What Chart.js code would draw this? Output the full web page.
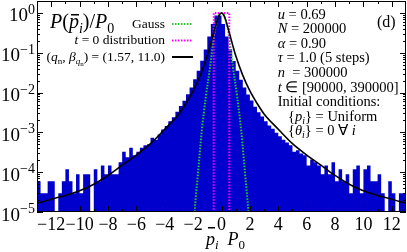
<!DOCTYPE html>
<html>
<head>
<meta charset="utf-8">
<style>
  html, body { margin: 0; padding: 0; background: #fff; }
</style>
<script src="https://cdn.jsdelivr.net/npm/chart.js@4.4.1/dist/chart.umd.min.js"></script>
</head>
<body>
<canvas id="myChart" width="407" height="252"></canvas>
<script>
// histogram of p_i P0 : bins of 0.25 from -13 to 13 (0 = empty bin)
var binStart = -13;
var binWidth = 0.25;
var histValues = [
  2.95e-5, 5.9e-5, 2.95e-5, 2.95e-5, 5.9e-5, 5.9e-5, 0, 2.95e-5, 5.9e-5, 1.18e-4,
  5.9e-5, 2.95e-5, 8.85e-5, 2.95e-5, 8.85e-5, 8.85e-5, 0, 1.18e-4, 5.9e-5, 1.48e-4,
  8.85e-5, 1.48e-4, 8.85e-5, 8.85e-5, 1.77e-4, 3.25e-4, 2.36e-4, 4.13e-4, 2.66e-4, 3.25e-4,
  4.13e-4, 4.72e-4, 5.02e-4, 7.38e-4, 6.49e-4, 8.85e-4, 1.18e-3,
  1.45e-3, 1.9e-3, 2.4e-3, 3.3e-3, 4.6e-3, 6.2e-3, 9.1e-3, 1.34e-2, 2.15e-2, 3.55e-2,
  6.3e-2, 0.121, 0.255, 0.53, 0.87, 0.87, 0.53, 0.255, 0.122, 6.2e-2,
  3.55e-2, 2.1e-2, 1.35e-2, 8.9e-3, 6.3e-3, 4.4e-3, 3.2e-3, 2.5e-3, 1.9e-3, 1.48e-3,
  1.24e-3, 9.74e-4, 7.97e-4, 6.49e-4, 5.6e-4, 4.72e-4, 3.25e-4, 3.54e-4, 2.95e-4, 2.66e-4,
  1.48e-4, 2.07e-4, 1.77e-4, 1.48e-4, 8.85e-5, 1.48e-4, 8.85e-5, 1.77e-4, 5.9e-5, 1.18e-4,
  5.9e-5, 8.85e-5, 2.95e-5, 1.18e-4, 1.48e-4, 2.95e-5, 1.18e-4, 1.48e-4, 5.9e-5, 5.9e-5,
  8.85e-5, 2.95e-5, 0, 5.9e-5, 2.95e-5, 0, 2.95e-5
];

// q-Gaussian fit (q_n, beta) = (1.57, 11.0)
var qCurveX = [-13, -12, -11, -10, -9, -8, -7, -6, -5, -4, -3, -2.5, -2, -1.5, -1, -0.75, -0.5, -0.25, -0.125, 0,
  0.125, 0.25, 0.5, 0.75, 1, 1.5, 2, 2.5, 3, 4, 5, 6, 7, 8, 9, 10, 11, 12, 13];
var qCurveY = [1.65e-5, 2.1e-5, 2.6e-5, 3.4e-5, 5.0e-5, 8.3e-5, 1.5e-4, 2.7e-4, 5.2e-4, 1.2e-3, 2.9e-3, 5.4e-3, 1.1e-2, 2.7e-2, 8.5e-2, 0.175, 0.37, 0.74, 0.93, 1,
  0.93, 0.74, 0.37, 0.175, 8.5e-2, 2.7e-2, 1.1e-2, 5.4e-3, 2.9e-3, 1.2e-3, 5.2e-4, 2.7e-4, 1.5e-4, 8.3e-5, 5.0e-5, 3.4e-5, 2.6e-5, 2.1e-5, 1.65e-5];

// Gauss
var gaussX = [-2.0, -1.9, -1.65, -1.4, -1.1, -0.8, -0.5, -0.25, 0, 0.25, 0.5, 0.8, 1.1, 1.4, 1.65, 1.9, 2.0];
var gaussY = [3e-6, 1e-5, 1e-4, 1e-3, 8e-3, 4.5e-2, 0.31, 0.75, 1, 0.75, 0.31, 4.5e-2, 8e-3, 1e-3, 1e-4, 1e-5, 3e-6];

// t = 0 distribution (uniform)
var initX = [-0.55, -0.55, 0.55, 0.55];
var initY = [1e-6, 1, 1, 1e-6];

var xTickValues = [-12, -10, -8, -6, -4, -2, 0, 2, 4, 6, 8, 10, 12];
var yTickExponents = [0, -1, -2, -3, -4, -5];

function zip(xs, ys) {
  return xs.map(function (x, i) { return { x: x, y: ys[i] }; });
}

var histPoints = histValues.map(function (v, k) {
  return { x: binStart + k * binWidth, y: v > 0 ? v : 1e-9 };
});
histPoints.push({ x: binStart + histValues.length * binWidth, y: histPoints[histPoints.length - 1].y });

var SERIF = '"Liberation Serif", "Times New Roman", serif';
function font(size, italic) { return (italic ? 'italic ' : '') + size + 'px ' + SERIF; }

// draws a row of text pieces (sub/superscripts via dy, bar = overbar height above baseline)
function drawRuns(ctx, x, y, parts, align) {
  var total = 0;
  parts.forEach(function (p) { ctx.font = font(p.s, p.i); total += ctx.measureText(p.t).width; });
  var cx = align === 'right' ? x - total : (align === 'center' ? x - total / 2 : x);
  parts.forEach(function (p) {
    ctx.font = font(p.s, p.i);
    var w = ctx.measureText(p.t).width;
    ctx.fillText(p.t, cx, y + (p.dy || 0));
    if (p.bar) {
      ctx.fillRect(Math.round(cx + w * 0.25), Math.round(y - p.bar), Math.round(w * 0.8), 1.5);
    }
    cx += w;
  });
}

var frameAndText = {
  id: 'frameAndText',
  afterDatasetsDraw: function (chart) {
    var ctx = chart.ctx, a = chart.chartArea;
    var xs = chart.scales.x, ys = chart.scales.y;
    ctx.save();
    ctx.strokeStyle = '#000';
    ctx.lineWidth = 1;
    ctx.beginPath();
    // x ticks, top and bottom
    for (var v = -12; v <= 12; v++) {
      var px = Math.round(xs.getPixelForValue(v)) + 0.5;
      var len = v % 2 === 0 ? 6 : 3;
      ctx.moveTo(px, a.bottom); ctx.lineTo(px, a.bottom - len);
      ctx.moveTo(px, a.top); ctx.lineTo(px, a.top + len);
    }
    // y ticks, left and right
    yTickExponents.forEach(function (e) {
      for (var m = 1; m <= 9; m++) {
        var val = m * Math.pow(10, e);
        if (val > ys.max || val < ys.min) continue;
        var py = Math.round(ys.getPixelForValue(val)) + 0.5;
        var l = m === 1 ? 6 : 3;
        ctx.moveTo(a.left, py); ctx.lineTo(a.left + l, py);
        ctx.moveTo(a.right, py); ctx.lineTo(a.right - l, py);
      }
    });
    ctx.stroke();
    ctx.strokeRect(a.left + 0.5, a.top + 0.5, a.right - a.left - 1, a.bottom - a.top - 1);
    ctx.restore();
  },
  afterDraw: function (chart) {
    var ctx = chart.ctx;
    var xs = chart.scales.x, ys = chart.scales.y;
    ctx.save();
    ctx.fillStyle = '#000';
    ctx.textBaseline = 'alphabetic';

    // x tick labels
    xTickValues.forEach(function (v) {
      var label = v < 0 ? '\u2212' + (-v) : String(v);
      drawRuns(ctx, xs.getPixelForValue(v), 230, [{ t: label, s: 18 }], 'center');
    });
    // y tick labels 10^e
    yTickExponents.forEach(function (e) {
      var py = ys.getPixelForValue(Math.pow(10, e));
      var ex = e === 0 ? '0' : '\u2212' + (-e);
      ctx.font = font(14, false);
      var ew = ctx.measureText(ex).width;
      ctx.fillText(ex, 35 - ew, py + 1);
      drawRuns(ctx, 35 - ew, py + 8.5, [{ t: '10', s: 19 }], 'right');
    });

    // x axis title
    drawRuns(ctx, 206, 245, [
      { t: 'p', s: 18, i: true, bar: 18 },
      { t: 'i', s: 13, i: true, dy: 4 },
      { t: '  ', s: 18 },
      { t: 'P', s: 18, i: true },
      { t: '0', s: 13, dy: 4 }
    ], 'left');

    // panel title
    drawRuns(ctx, 50, 27.5, [
      { t: 'P', s: 20, i: true },
      { t: '(', s: 20 },
      { t: 'p', s: 20, i: true, bar: 14 },
      { t: 'i', s: 14, i: true, dy: 5 },
      { t: ')', s: 20 },
      { t: '/', s: 20 },
      { t: 'P', s: 20, i: true },
      { t: '0', s: 14, dy: 5 }
    ], 'left');

    // legend
    var ls = 13.5;
    drawRuns(ctx, 165, 28.3, [{ t: 'Gauss', s: ls }], 'right');
    drawRuns(ctx, 165, 44.3, [{ t: 't', s: ls, i: true }, { t: ' = 0 distribution', s: ls }], 'right');
    drawRuns(ctx, 165, 60.5, [
      { t: '(', s: ls }, { t: 'q', s: ls, i: true }, { t: 'n', s: 9, dy: 3 },
      { t: ', ', s: ls }, { t: '\u03B2', s: ls, i: true }, { t: 'q', s: 9, i: true, dy: 3 },
      { t: 'n', s: 7, dy: 5 }, { t: ') = (1.57, 11.0)', s: ls }
    ], 'right');
    ctx.lineWidth = 2;
    ctx.setLineDash([1.5, 1.5]);
    ctx.strokeStyle = '#22cc22';
    ctx.beginPath(); ctx.moveTo(172, 24); ctx.lineTo(193, 24); ctx.stroke();
    ctx.strokeStyle = '#ff00ff';
    ctx.beginPath(); ctx.moveTo(172, 40.5); ctx.lineTo(193, 40.5); ctx.stroke();
    ctx.setLineDash([]);
    ctx.strokeStyle = '#000';
    ctx.beginPath(); ctx.moveTo(172, 57); ctx.lineTo(193, 57); ctx.stroke();

    // parameters
    var ps = 14.5, x0 = 277.7, step = 14.6, y0 = 18.5;
    var lines = [
      [{ t: 'u', s: ps, i: true }, { t: ' = 0.69', s: ps }],
      [{ t: 'N', s: ps, i: true }, { t: ' = 200000', s: ps }],
      [{ t: '\u03B1', s: ps, i: true }, { t: ' = 0.90', s: ps }],
      [{ t: '\u03C4', s: ps, i: true }, { t: ' = 1.0 (5 steps)', s: ps }],
      [{ t: 'n', s: ps, i: true }, { t: '  = 300000', s: ps }],
      [{ t: 't', s: ps, i: true }, { t: ' \u2208 [90000, 390000]', s: ps }],
      [{ t: 'Initial conditions:', s: ps }]
    ];
    lines.forEach(function (parts, j) { drawRuns(ctx, x0, y0 + j * step, parts, 'left'); });
    drawRuns(ctx, 288, y0 + 7 * step, [
      { t: '{', s: ps }, { t: 'p', s: ps, i: true }, { t: 'i', s: 10, i: true, dy: 3 },
      { t: '} = Uniform', s: ps }
    ], 'left');
    drawRuns(ctx, 288, y0 + 8 * step, [
      { t: '{', s: ps }, { t: '\u03B8', s: ps, i: true }, { t: 'i', s: 10, i: true, dy: 3 },
      { t: '} = 0 \u2200 ', s: ps }, { t: 'i', s: ps, i: true }
    ], 'left');
    drawRuns(ctx, 377, 26.7, [{ t: '(d)', s: 16 }], 'left');
    ctx.restore();
  }
};

var ctx = document.getElementById('myChart').getContext('2d');
var chart = new Chart(ctx, {
  type: 'line',
  data: {
    datasets: [{
      label: '(q_n, beta) = (1.57, 11.0)',
      data: zip(qCurveX, qCurveY),
      borderColor: '#000',
      borderWidth: 1.6,
      pointRadius: 0,
      cubicInterpolationMode: 'monotone',
      fill: false
    }, {
      label: 't = 0 distribution',
      data: zip(initX, initY),
      borderColor: '#ff00ff',
      borderWidth: 2,
      borderDash: [1.5, 1.5],
      pointRadius: 0,
      tension: 0,
      fill: false
    }, {
      label: 'Gauss',
      data: zip(gaussX, gaussY),
      borderColor: '#22cc22',
      borderWidth: 2,
      borderDash: [1.5, 1.5],
      pointRadius: 0,
      cubicInterpolationMode: 'monotone',
      fill: false
    }, {
      label: 'histogram',
      data: histPoints,
      stepped: 'after',
      borderColor: 'rgba(0,0,0,0)',
      borderWidth: 1,
      backgroundColor: 'rgb(0,0,205)',
      pointRadius: 0,
      fill: 'start'
    }]
  },
  options: {
    responsive: false,
    animation: false,
    layout: { padding: { left: 37, right: 1, top: 1, bottom: 40 } },
    plugins: { legend: { display: false }, tooltip: { enabled: false } },
    scales: {
      x: { type: 'linear', min: -13, max: 13, display: false },
      y: { type: 'logarithmic', min: 1e-5, max: 2, display: false }
    }
  },
  plugins: [frameAndText]
});
</script>
</body>
</html>
